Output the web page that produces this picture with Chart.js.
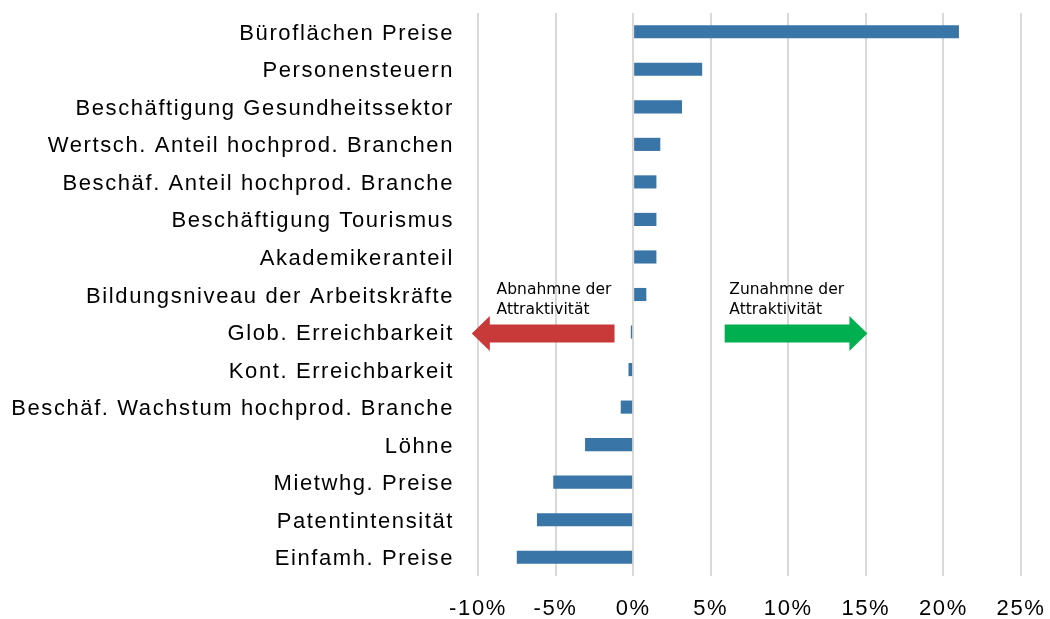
<!DOCTYPE html>
<html>
<head>
<meta charset="utf-8">
<script src="https://cdn.jsdelivr.net/npm/chart.js@4/dist/chart.umd.min.js"></script>
<style>
  html, body { margin: 0; padding: 0; background: #fff; }
  .chart-container { position: relative; width: 1050px; height: 619px; }
</style>
</head>
<body>
<div class="chart-container">
  <canvas id="chart" width="1050" height="619"></canvas>
</div>
<script>
const categories = [
  "Büroflächen Preise",
  "Personensteuern",
  "Beschäftigung Gesundheitssektor",
  "Wertsch. Anteil hochprod. Branchen",
  "Beschäf. Anteil hochprod. Branche",
  "Beschäftigung Tourismus",
  "Akademikeranteil",
  "Bildungsniveau der Arbeitskräfte",
  "Glob. Erreichbarkeit",
  "Kont. Erreichbarkeit",
  "Beschäf. Wachstum hochprod. Branche",
  "Löhne",
  "Mietwhg. Preise",
  "Patentintensität",
  "Einfamh. Preise",
];

// change in percent
const changes = [21.0, 4.45, 3.15, 1.75, 1.5, 1.5, 1.5, 0.85, -0.15, -0.3, -0.8, -3.1, -5.15, -6.2, -7.5];

const xTicks = [-10, -5, 0, 5, 10, 15, 20, 25];

// arrow annotations: tail/tip in percent, row they sit on
const arrows = [
  { from: -1.2, to: -10.4, row: 8, color: "#c8393a", text: ["Abnahmne der", "Attraktivität"], textAt: -8.8 },
  { from: 5.9, to: 15.1, row: 8, color: "#00b050", text: ["Zunahmne der", "Attraktivität"], textAt: 6.2 },
];

const arrowPlugin = {
  id: "arrows",
  afterDatasetsDraw(chart) {
    const { ctx, scales } = chart;
    const x = scales.x;
    const y = scales.y;
    ctx.save();
    ctx.letterSpacing = "0px";
    arrows.forEach((a) => {
      const x0 = x.getPixelForValue(a.from);
      const x1 = x.getPixelForValue(a.to);
      const cy = y.getPixelForValue(a.row) + 1.5;
      const dir = Math.sign(x1 - x0);
      const headLen = 18;
      const shaft = 9;
      const head = 17.5;
      const xb = x1 - dir * headLen;
      ctx.fillStyle = a.color;
      ctx.beginPath();
      ctx.moveTo(x0, cy - shaft);
      ctx.lineTo(xb, cy - shaft);
      ctx.lineTo(xb, cy - head);
      ctx.lineTo(x1, cy);
      ctx.lineTo(xb, cy + head);
      ctx.lineTo(xb, cy + shaft);
      ctx.lineTo(x0, cy + shaft);
      ctx.closePath();
      ctx.fill();

      ctx.fillStyle = "#000";
      ctx.font = "15.5px 'DejaVu Sans'";
      ctx.textAlign = "left";
      ctx.textBaseline = "alphabetic";
      const tx = x.getPixelForValue(a.textAt);
      ctx.fillText(a.text[0], tx, cy - 40);
      ctx.fillText(a.text[1], tx, cy - 20);
    });
    ctx.restore();
  },
};

// axis labels are set a little wider than the plain font
const spacingPlugin = {
  id: "labelSpacing",
  beforeDraw(chart) {
    chart.ctx.letterSpacing = "1.6px";
  },
  afterDraw(chart) {
    chart.ctx.letterSpacing = "0px";
  },
};

const labelFont = { family: "'Liberation Sans', Arial, sans-serif", size: 22 };

new Chart(document.getElementById("chart"), {
  type: "bar",
  data: {
    labels: categories,
    datasets: [
      {
        data: changes,
        backgroundColor: "#3a75a8",
        borderWidth: 0,
        barPercentage: 0.35,
        categoryPercentage: 1,
      },
    ],
  },
  options: {
    indexAxis: "y",
    responsive: false,
    animation: false,
    devicePixelRatio: 1,
    layout: { padding: { top: 13, right: 29, bottom: 0, left: 0 } },
    plugins: {
      legend: { display: false },
      tooltip: { enabled: false },
    },
    scales: {
      x: {
        min: xTicks[0],
        max: xTicks[xTicks.length - 1],
        afterBuildTicks(axis) {
          axis.ticks = xTicks.map((v) => ({ value: v }));
        },
        afterFit(axis) {
          axis.height = 43;
          axis.paddingLeft = 0;
          axis.paddingRight = 0;
        },
        border: { display: false },
        grid: { color: "#d9d9d9", lineWidth: 2, drawTicks: false },
        ticks: {
          padding: 20,
          color: "#000",
          font: labelFont,
          callback: (v) => v + "%",
        },
      },
      y: {
        afterFit(axis) {
          axis.width = 478;
          axis.paddingTop = 0;
          axis.paddingBottom = 0;
        },
        border: { display: false },
        grid: { display: false, drawTicks: false },
        ticks: {
          padding: 24,
          labelOffset: 2,
          color: "#000",
          font: labelFont,
          autoSkip: false,
        },
      },
    },
  },
  plugins: [spacingPlugin, arrowPlugin],
});
</script>
</body>
</html>
